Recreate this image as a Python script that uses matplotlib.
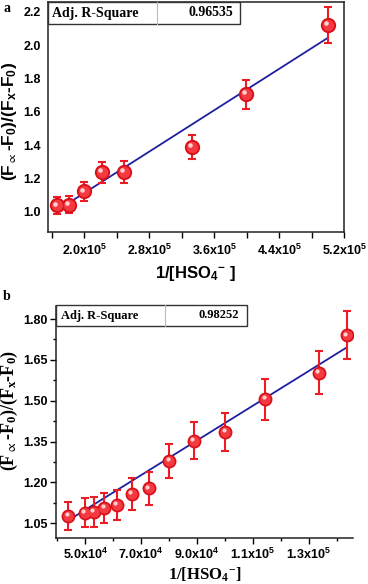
import matplotlib
matplotlib.use("Agg")
import matplotlib.pyplot as plt
import numpy as np
from matplotlib.ticker import FixedLocator, FuncFormatter
from matplotlib.patches import Rectangle
from matplotlib.lines import Line2D
from matplotlib.transforms import offset_copy

plt.rcParams['mathtext.default'] = 'regular'

# ---------------- data panel a ----------------
xa = [1.66e5, 1.81e5, 2.00e5, 2.22e5, 2.49e5, 3.33e5, 3.99e5, 5.00e5]
ya = [1.040, 1.044, 1.124, 1.239, 1.241, 1.391, 1.706, 2.121]
ea = [0.052, 0.050, 0.057, 0.063, 0.066, 0.072, 0.087, 0.108]
fit_a = [0.493, 3.10e-6]   # intercept, slope
r2_a = "0.96535"
xticks_a = [2.0e5, 2.8e5, 3.6e5, 4.4e5, 5.2e5]
yticks_a = [1.0, 1.2, 1.4, 1.6, 1.8, 2.0, 2.2]

# ---------------- data panel b ----------------
xb = [4.40e4, 4.98e4, 5.32e4, 5.69e4, 6.13e4, 6.67e4, 7.27e4, 8.01e4,
      8.89e4, 1.002e5, 1.145e5, 1.337e5, 1.435e5]
yb = [1.077, 1.089, 1.093, 1.106, 1.117, 1.158, 1.178, 1.279,
      1.353, 1.386, 1.506, 1.603, 1.740]
eb = [0.053, 0.054, 0.055, 0.055, 0.056, 0.058, 0.059, 0.064,
      0.068, 0.069, 0.075, 0.080, 0.088]
fit_b = [0.780, 6.38e-6]
r2_b = "0.98252"
xticks_b = [5.0e4, 7.0e4, 9.0e4, 1.1e5, 1.3e5]
yticks_b = [1.05, 1.20, 1.35, 1.50, 1.65, 1.80]

W, H = 368, 584
fig = plt.figure(figsize=(W/100, H/100), dpi=100)

def px_axes(l, t, r, b):
    return fig.add_axes([l/W, 1-b/H, (r-l)/W, (b-t)/H])

ax1 = px_axes(48, 2, 344, 232)
ax2 = px_axes(56, 306, 353, 538)

RED = '#ec1c24'
BLUE = '#1f1f9f'

def sci_fmt(v, pos):
    e = int(np.floor(np.log10(v)))
    m = v / 10**e
    return r'%.1fx10$^{%d}$' % (m, e)

def draw_points(ax, x, y, e, ms):
    ax.errorbar(x, y, yerr=e, fmt='none', ecolor=RED, elinewidth=1.5,
                capsize=3, capthick=1.5, zorder=3)
    ax.plot(x, y, 'o', ms=ms, color='#d9101a', mec='none', zorder=4)
    ax.plot(x, y, 'o', ms=ms*0.75, color='#f43a40', mec='none', zorder=5)
    tr = offset_copy(ax.transData, fig=fig, x=-1.2, y=1.2, units='points')
    ax.plot(x, y, 'o', ms=ms*0.3, color='#ffd0d0', mec='none', zorder=6,
            transform=tr)

def draw_fit(ax, x, fit):
    xs = np.array([x[0], x[-1]])
    ax.plot(xs, fit[0] + fit[1]*xs, color=BLUE, lw=1.3, zorder=2)

def table(l, t, r, b, div, text, val, size, textx, valx):
    fig.add_artist(Rectangle((l/W, 1-b/H), (r-l)/W, (b-t)/H,
                             transform=fig.transFigure, fill=False,
                             ec='#333333', lw=1.0, zorder=10))
    fig.add_artist(Line2D([div/W, div/W], [1-b/H, 1-t/H],
                          transform=fig.transFigure, color='#bbbbbb',
                          lw=0.8, zorder=10))
    yc = 1 - ((t+b)/2)/H
    fig.text(textx/W, yc, text, ha='left', va='center', fontsize=size,
             family='Liberation Serif', weight='bold', zorder=11)
    fig.text(valx/W, yc, val, ha='right', va='center', fontsize=size,
             family='Liberation Serif', weight='bold', zorder=11)

ylab = r'(F$_{\propto}$-F$_0$)/(F$_x$-F$_0$)'

# ---------------- panel a ----------------
draw_fit(ax1, xa, fit_a)
draw_points(ax1, xa, ya, ea, 11)
ax1.set_xlim(1.555e5, 5.2e5)
ax1.set_ylim(0.88, 2.258)
ax1.xaxis.set_major_locator(FixedLocator(xticks_a))
ax1.xaxis.set_minor_locator(FixedLocator([1.6e5, 2.4e5, 3.2e5, 4.0e5, 4.8e5]))
ax1.xaxis.set_major_formatter(FuncFormatter(sci_fmt))
ax1.yaxis.set_major_locator(FixedLocator(yticks_a))
ax1.yaxis.set_major_formatter(FuncFormatter(lambda v, p: '%.1f' % v))
ax1.tick_params(axis='x', which='both', direction='out', length=4, width=1,
                pad=4)
ax1.tick_params(axis='y', which='both', length=0, pad=5)
for lab in ax1.get_xticklabels() + ax1.get_yticklabels():
    lab.set_family('Liberation Sans'); lab.set_weight('bold'); lab.set_fontsize(9)
for s in ax1.spines.values():
    s.set_linewidth(1.1); s.set_color('#222222')
ax1.set_xlabel(r'1/[HSO$_4$$^{-}$ ]', family='Liberation Sans', weight='bold',
               fontsize=12, labelpad=4)
ax1.set_ylabel(ylab, family='Liberation Sans', weight='bold', fontsize=12.5)
ax1.yaxis.set_label_coords((19-48)/296, 0.48)

# ---------------- panel b ----------------
draw_fit(ax2, xb, fit_b)
draw_points(ax2, xb, yb, eb, 10)
ax2.set_xlim(3.96e4, 1.458e5)
ax2.set_ylim(0.996, 1.848)
ax2.xaxis.set_major_locator(FixedLocator(xticks_b))
ax2.xaxis.set_minor_locator(FixedLocator([4.0e4, 6.0e4, 8.0e4, 1.0e5, 1.2e5, 1.4e5]))
ax2.xaxis.set_major_formatter(FuncFormatter(sci_fmt))
ax2.yaxis.set_major_locator(FixedLocator(yticks_b))
ax2.yaxis.set_minor_locator(FixedLocator([1.125, 1.275, 1.425, 1.575, 1.725]))
ax2.yaxis.set_major_formatter(FuncFormatter(lambda v, p: '%.2f' % v))
ax2.tick_params(which='major', direction='out', length=4, width=1, pad=2)
ax2.tick_params(which='minor', direction='out', length=2, width=1)
for lab in ax2.get_xticklabels() + ax2.get_yticklabels():
    lab.set_family('Liberation Sans'); lab.set_weight('bold'); lab.set_fontsize(9)
ax2.spines['top'].set_visible(False)
ax2.spines['right'].set_visible(False)
for s in ax2.spines.values():
    s.set_linewidth(1.1); s.set_color('#222222')
ax2.set_xlabel(r'1/[HSO$_4$$^{-}$]', family='Liberation Serif', weight='bold',
               fontsize=12, labelpad=3)
ax2.set_ylabel(ylab, family='Liberation Serif', weight='bold', fontsize=13)
ax2.yaxis.set_label_coords((20-56)/297, 0.55)

# tables
table(48, 2, 240, 24, 157, 'Adj. R-Square', r2_a, 10, 52, 233)
table(56, 305, 247, 326, 165, 'Adj. R-Square', r2_b, 9, 61, 239)

# panel letters
fig.text(3/W, 1-8/H, 'a', family='Liberation Serif', weight='bold',
         fontsize=10, va='center', ha='left')
fig.text(3/W, 1-297/H, 'b', family='Liberation Serif', weight='bold',
         fontsize=10, va='center', ha='left')

fig.savefig('out.png', dpi=100)
